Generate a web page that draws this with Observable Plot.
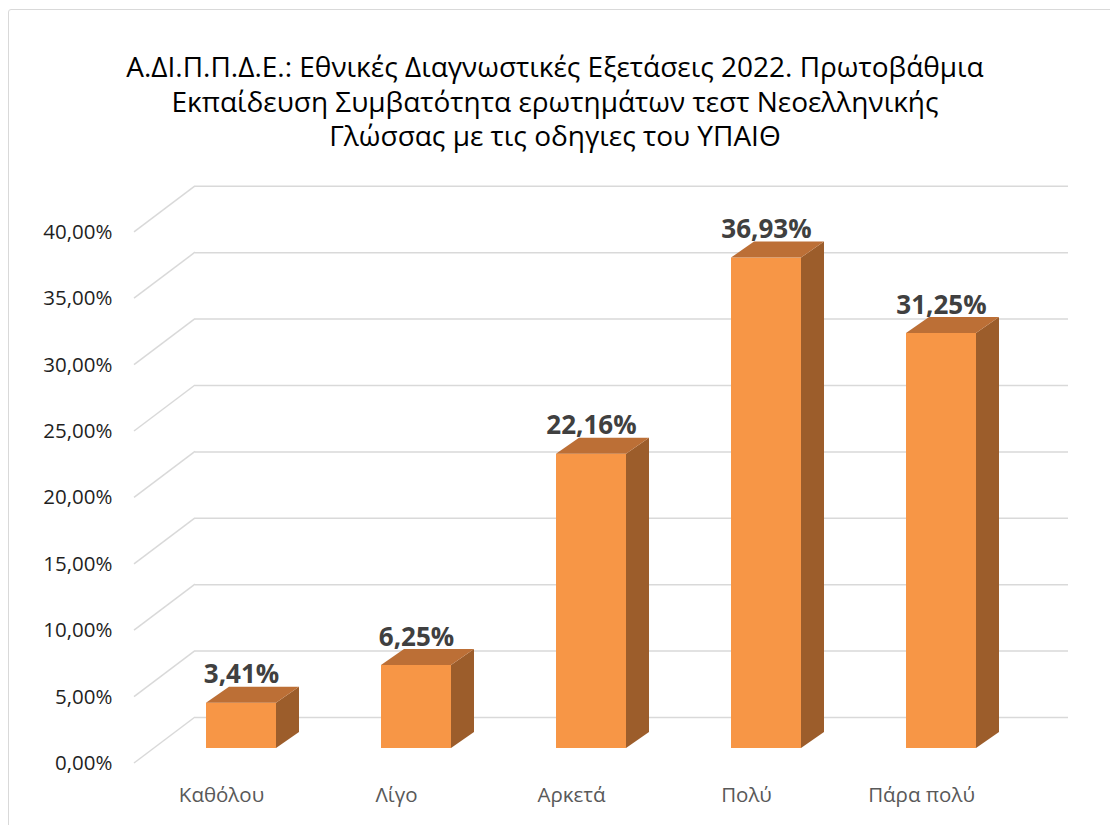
<!DOCTYPE html>
<html><head><meta charset="utf-8">
<script src="https://cdn.jsdelivr.net/npm/d3@7"></script>
<script src="https://cdn.jsdelivr.net/npm/@observablehq/plot@0.6"></script>
<style>
html,body{margin:0;padding:0;background:#fff;overflow:hidden;width:1110px;height:825px;}
#frame{position:absolute;left:8px;top:9px;width:1200px;height:900px;border:1.5px solid #d9d9d9;border-radius:3px;box-sizing:border-box;}
#title{position:absolute;left:0;top:49px;width:1110px;text-align:center;font-family:"Open Sans";font-size:28px;line-height:34.5px;color:#000;}
#chart{position:absolute;left:0;top:170px;}
</style></head><body>
<div id="frame"></div>
<div id="title"></div>
<div id="chart"></div>
<script>
const titleLines = [
  "Α.ΔΙ.Π.Π.Δ.Ε.: Εθνικές Διαγνωστικές Εξετάσεις 2022. Πρωτοβάθμια",
  "Εκπαίδευση Συμβατότητα ερωτημάτων τεστ Νεοελληνικής",
  "Γλώσσας με τις οδηγιες του ΥΠΑΙΘ"
];
const categories = ["Καθόλου", "Λίγο", "Αρκετά", "Πολύ", "Πάρα πολύ"];
const values = [0.0341, 0.0625, 0.2216, 0.3693, 0.3125];
const yTicks = [0, 0.05, 0.10, 0.15, 0.20, 0.25, 0.30, 0.35, 0.40];

const data = categories.map((c, i) => ({category: c, value: values[i]}));
const pct = v => (v * 100).toFixed(2).replace(".", ",") + "%";

// 3D geometry (pixels)
const WALL_DX = 61, FRONT_DY = 15, BACK_DY = -31;   // floor depth: front edge -> back wall
const BAR_DX = 23, BAR_DY = -16;                      // bar depth
const COL_FRONT = "#F79646", COL_TOP = "#BC6F36", COL_SIDE = "#9C5D2B";

d3.select("#title").selectAll("div").data(titleLines).join("div").text(d => d);

function wallDiagonals(index, scales, vals, dim) {
  const y = scales.y;
  const g = d3.create("svg:g").attr("stroke", "#d9d9d9").attr("stroke-width", 1.5).attr("fill", "none");
  const xBack = dim.marginLeft, xFront = dim.marginLeft - WALL_DX;
  for (const t of yTicks) {
    g.append("path").attr("d", `M${xFront},${y(t) + FRONT_DY}L${xBack},${y(t) + BACK_DY}`);
  }
  return g.node();
}

function barFaces(index, scales, vals, dim) {
  const x = scales.x, y = scales.y;
  const bw = typeof x.bandwidth === "function" ? x.bandwidth() : 70;
  const g = d3.create("svg:g");
  for (const d of data) {
    const xl = x(d.category), xr = xl + bw, yt = y(d.value), yb = y(0);
    g.append("path").attr("fill", COL_SIDE)
      .attr("d", `M${xr},${yt}L${xr + BAR_DX},${yt + BAR_DY}L${xr + BAR_DX},${yb + BAR_DY}L${xr},${yb}Z`);
    g.append("path").attr("fill", COL_TOP)
      .attr("d", `M${xl},${yt}L${xr},${yt}L${xr + BAR_DX},${yt + BAR_DY}L${xl + BAR_DX},${yt + BAR_DY}Z`);
  }
  return g.node();
}

const chart = Plot.plot({
  width: 1110,
  height: 655,
  marginLeft: 195,
  marginRight: 42,
  marginTop: 0,
  marginBottom: 77,
  style: {fontFamily: "Open Sans", background: "transparent"},
  x: {type: "band", domain: categories, range: [101, 1081], padding: 0.6, round: false},
  y: {domain: [0, 0.4], range: [578, 46.8]},
  marks: [
    Plot.ruleY(yTicks, {stroke: "#d9d9d9", strokeWidth: 1.5, dy: BACK_DY}),
    wallDiagonals,
    Plot.barY(data, {x: "category", y: "value", fill: COL_FRONT}),
    barFaces,
    Plot.axisY({ticks: yTicks, tickSize: 0, tickPadding: 83, dy: FRONT_DY, tickFormat: pct,
      fontSize: 20.5, fill: "#1f1f1f", label: null}),
    Plot.axisX({tickSize: 0, tickPadding: 39, dx: -20, fontSize: 20.5, fill: "#595959", label: null}),
    Plot.text(data, {x: "category", y: "value", text: d => pct(d.value), dy: -20, lineAnchor: "bottom",
      fontSize: 26, fontWeight: "bold", fill: "#404040"})
  ]
});
document.getElementById("chart").appendChild(chart);
</script>
</body></html>
